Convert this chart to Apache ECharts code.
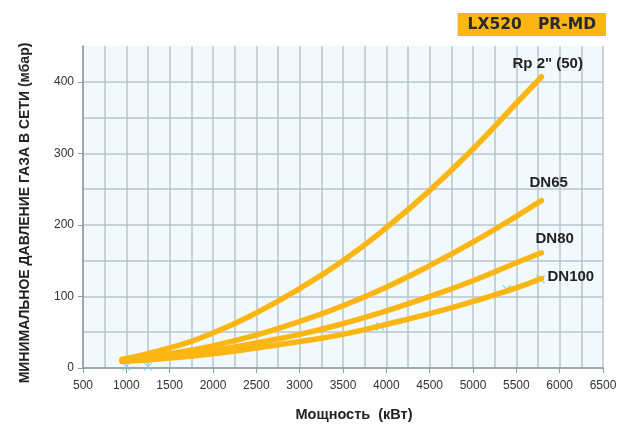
<!DOCTYPE html>
<html>
<head>
<meta charset="utf-8">
<script src="https://cdn.jsdelivr.net/npm/echarts@6/dist/echarts.min.js"></script>
<style>
  html, body { margin: 0; padding: 0; background: #fff; }
  #chart { width: 624px; height: 428px; }
</style>
</head>
<body>
<div id="chart"></div>
<script>
// values: [power kW, pressure mbar]
const rp2 = [[950, 12], [1500, 28], [2000, 49], [2500, 77], [3000, 111], [3500, 150], [4000, 196], [4500, 248], [5000, 306], [5500, 370], [5790, 407]]
const dn65 = [[950, 11], [1500, 20], [2000, 31], [2500, 46], [3000, 65], [3500, 87], [4000, 113], [4500, 143], [5000, 176], [5500, 212], [5790, 234]]
const dn80 = [[950, 10], [1500, 16], [2000, 24], [2500, 35], [3000, 47], [3500, 62], [4000, 80], [4500, 100], [5000, 122], [5500, 147], [5790, 161]]
const dn100 = [[950, 9], [1500, 14], [2000, 20], [2500, 28], [3000, 37], [3500, 47], [4000, 61], [4500, 76], [5000, 93], [5500, 112], [5790, 125]]
const crosses = [[1000, 2], [1250, 2], [3930, 58], [5390, 110], [5780, 124]]
const seriesNames = ['Rp 2" (50)', 'DN65', 'DN80', 'DN100']
const yLabels = [0, 100, 200, 300, 400]

const chartDom = document.querySelector('#chart')

function paintChart(dom) {
    let myChart = echarts.init(dom)
    const lineColor = '#fbb614'
    const gridColor = '#b8c4cc'
    const labelStyle = { color: '#222', fontSize: 15, fontWeight: 'bold', fontFamily: 'Liberation Sans, Arial, sans-serif' }

    function makeLine(name, data, offset) {
        return {
            name: name,
            type: 'line',
            smooth: true,
            showSymbol: false,
            symbol: 'none',
            z: 3,
            lineStyle: { color: lineColor, width: 5.5, cap: 'round' },
            endLabel: Object.assign({ show: true, formatter: name, distance: 0, offset: offset }, labelStyle),
            data: data,
        }
    }

    let option = {
        animation: false,
        backgroundColor: '#fff',
        title: {
            text: 'LX520   PR-MD',
            right: 18,
            top: 13,
            backgroundColor: lineColor,
            padding: [4, 10, 3, 10],
            textStyle: { color: '#2a2a2a', fontSize: 15.5, fontWeight: 'bold', fontFamily: 'DejaVu Sans, sans-serif' },
        },
        grid: { left: 83, right: 21, top: 46, bottom: 60, show: true, backgroundColor: '#f2f9fd', borderWidth: 0 },
        xAxis: {
            type: 'value',
            min: 500,
            max: 6500,
            interval: 500,
            name: 'Мощность  (кВт)',
            nameLocation: 'middle',
            nameGap: 39,
            nameTextStyle: { color: '#222', fontSize: 14.5, fontWeight: 'bold', fontFamily: 'Liberation Sans, Arial, sans-serif', padding: [0, 0, 0, 22] },
            axisLine: { show: true, lineStyle: { color: '#8c9aa3', width: 1.5 } },
            axisTick: { show: true, length: 5, lineStyle: { color: '#8c9aa3' } },
            axisLabel: { color: '#333', fontSize: 12, margin: 12, fontFamily: 'Liberation Sans, Arial, sans-serif', formatter: (v) => String(v) },
            splitLine: { show: true, lineStyle: { color: gridColor, width: 1.5 } },
            minorTick: { show: false, splitNumber: 2 },
            minorSplitLine: { show: true, lineStyle: { color: gridColor, width: 1.5 } },
        },
        yAxis: {
            type: 'value',
            min: 0,
            max: 450,
            interval: 100,
            name: 'МИНИМАЛЬНОЕ ДАВЛЕНИЕ ГАЗА В СЕТИ (мбар)',
            nameLocation: 'middle',
            nameRotate: 90,
            nameGap: 51,
            nameTextStyle: { color: '#222', fontSize: 14, fontWeight: 'bold', fontFamily: 'Liberation Sans Narrow, Arial Narrow, sans-serif', padding: [0, 12, 0, 0] },
            axisLine: { show: true, lineStyle: { color: '#8c9aa3', width: 1.5 } },
            axisTick: { show: true, length: 5, lineStyle: { color: '#8c9aa3' }, customValues: yLabels },
            axisLabel: {
                color: '#333',
                fontSize: 12,
                margin: 9,
                fontFamily: 'Liberation Sans, Arial, sans-serif',
                formatter: (v) => (v % 100 === 0 ? String(v) : ''),
            },
            splitLine: { show: true, lineStyle: { color: gridColor, width: 1.5 } },
            minorTick: { show: false, splitNumber: 2 },
            minorSplitLine: { show: true, lineStyle: { color: gridColor, width: 1.5 } },
        },
        series: [
            {
                name: 'marks',
                type: 'scatter',
                z: 2,
                symbol: 'path://M0,0L10,10M10,0L0,10',
                symbolSize: 8,
                itemStyle: { color: 'none', borderColor: '#6fd0e6', borderWidth: 1.2 },
                data: crosses,
            },
            makeLine(seriesNames[0], rp2, [-29, -13]),
            makeLine(seriesNames[1], dn65, [-12, -18]),
            makeLine(seriesNames[2], dn80, [-6, -14]),
            makeLine(seriesNames[3], dn100, [6, -2]),
        ],
    }
    myChart.setOption(option)
}

paintChart(chartDom)
</script>
</body>
</html>
